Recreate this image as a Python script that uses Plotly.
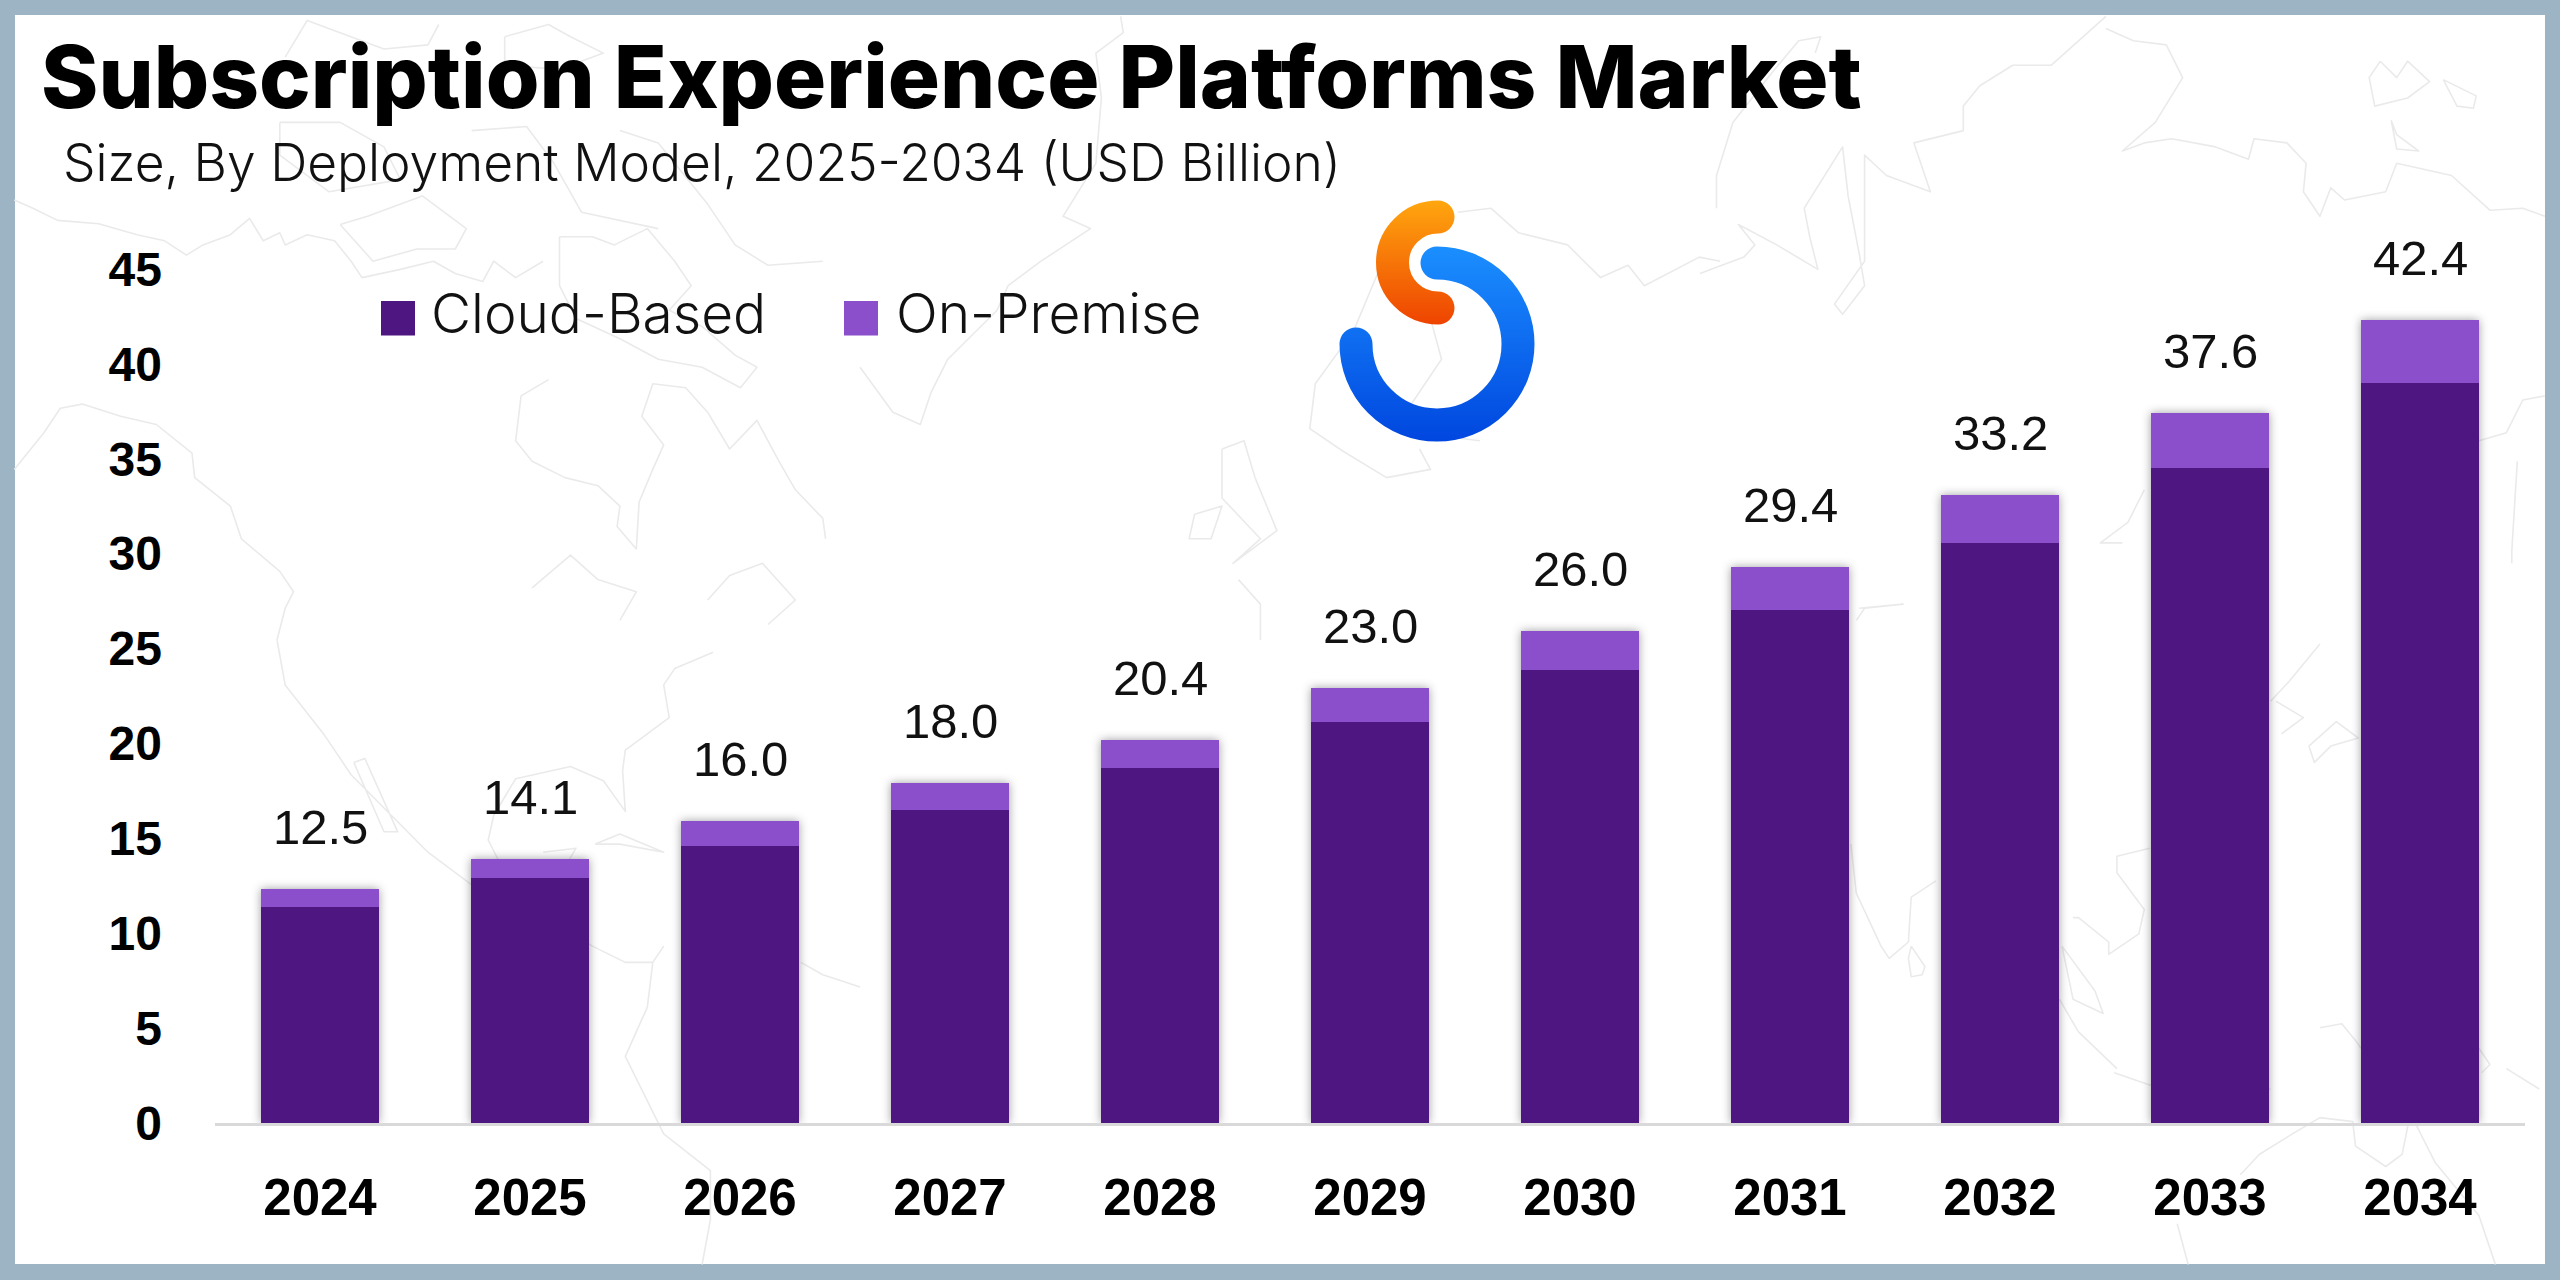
import base64
import plotly.graph_objects as go

# ---- data ----
YEARS = ["2024", "2025", "2026", "2027", "2028", "2029", "2030", "2031", "2032", "2033", "2034"]
CLOUD_BASED = [11.4, 12.9, 14.6, 16.5, 18.7, 21.15, 23.85, 27.05, 30.55, 34.5, 39.0]
ON_PREMISE = [0.95, 1.0, 1.3, 1.4, 1.5, 1.75, 2.05, 2.25, 2.55, 2.9, 3.3]
TOTAL_LABELS = ["12.5", "14.1", "16.0", "18.0", "20.4", "23.0", "26.0", "29.4", "33.2", "37.6", "42.4"]
Y_TICKS = [0, 5, 10, 15, 20, 25, 30, 35, 40, 45]
SERIES_NAMES = ["Cloud-Based", "On-Premise"]
TITLE = "Subscription Experience Platforms Market"
SUBTITLE = "Size, By Deployment Model, 2025-2034 (USD Billion)"

DARK = "#4E1681"
LIGHT = "#8C4FCB"
FRAME = "#9DB4C4"
W, H = 2560, 1280
L, R, T, B = 215, 2525, 269, 1123  # plot area in page pixels


def px(x):
    return (x - L) / (R - L)


def py(y):
    return (B - y) / (B - T)


def seg(ox, oy, pts, sx=1.823, sy=2.45):
    return "M" + " L".join(f"{ox + x / sx:.1f} {oy + y / sy:.1f}" for x, y in pts)


MAP = [
    seg(0, 0, [(26,490),(60,510),(105,540),(180,548),(250,575),(300,590),(340,625),(370,600),(420,575),(455,535),(480,590),(510,570),(520,600),(560,575),(610,590),(640,640),(660,680),(730,660),(790,640),(830,670),(880,690),(900,640),(940,680),(990,640)]),
    seg(0, 0, [(1000,930),(950,970),(940,1080),(970,1130),(1030,1170),(1090,1190),(1130,1240),(1125,1290),(1160,1345),(1165,1230),(1190,1150),(1210,1090),(1170,1020),(1190,940),(1250,950),(1290,1010),(1330,1100),(1380,1030),(1420,1130),(1450,1200),(1500,1270),(1505,1320)]),
    seg(0, 0, [(26,1150),(80,1060),(110,1000),(150,990),(220,1020),(285,1040),(350,1110),(355,1170),(420,1240),(440,1320),(510,1400),(535,1450),(520,1490),(505,1568)]),
    seg(0, 0, [(520,140),(560,50),(620,80),(700,120),(780,110),(800,60)]),
    seg(0, 0, [(510,300),(620,300),(700,360),(730,440),(600,470),(510,380),(510,300)]),
    seg(0, 0, [(620,550),(680,640),(760,610),(830,610),(850,560),(770,480),(670,530),(620,550)]),
    seg(0, 0, [(1020,580),(1080,580),(1120,600),(1180,560),(1230,640),(1260,700),(1220,760),(1280,800),(1340,870),(1380,900),(1350,950),(1280,900),(1200,880),(1130,830),(1050,780),(1020,700),(1020,580)]),
    seg(0, 0, [(920,90),(1000,60),(1040,90),(1100,130),(1020,170),(920,160),(920,90)]),
    seg(0, 0, [(860,320),(960,310),(1010,400),(1060,520),(1200,560)]),
    seg(0, 0, [(1130,320),(1200,350),(1290,500),(1340,600),(1400,650),(1500,640)]),
    seg(0, 0, [(970,1440),(1040,1360),(1090,1420),(1160,1450),(1130,1520)]),
    seg(0, 0, [(1290,1470),(1330,1410),(1390,1380),(1450,1470),(1400,1530)]),
    seg(0, 640, [(505,0),(520,110),(590,230),(640,330),(780,520),(860,600),(1000,680),(1080,750),(1140,790),(1190,790),(1210,750)]),
    seg(0, 640, [(1190,790),(1180,900),(1140,1020),(1210,1210),(1295,1300),(1295,1420),(1280,1530)]),
    seg(0, 640, [(645,300),(665,290),(725,470),(700,470),(645,300)]),
    seg(0, 640, [(1300,30),(1230,70),(1210,110),(1220,190),(1140,270),(1135,320),(1140,420),(1100,345),(1040,310),(940,340),(900,430),(890,490),(920,570),(1020,580),(1050,510),(990,520)]),
    seg(0, 640, [(1085,500),(1130,475),(1210,520),(1130,500),(1085,500)]),
    seg(0, 640, [(1460,790),(1500,820),(1568,850)]),
    seg(860, 0, [(475,40),(480,80),(430,130),(440,240),(430,400),(370,530),(420,560),(330,640),(270,700),(250,760),(160,880),(130,960),(110,1040),(60,1010),(0,900)]),
    seg(860, 0, [(950,650),(900,810),(830,940),(820,1050),(880,1105),(960,1170),(1040,1150),(1020,1100)]),
    seg(860, 0, [(1040,780),(1060,880),(1000,1000),(1010,1060),(1130,1080)]),
    seg(860, 0, [(660,1100),(700,1080),(720,1170),(760,1300),(680,1380),(730,1320),(660,1220),(660,1100)]),
    seg(860, 0, [(610,1260),(660,1240),(640,1320),(600,1320),(610,1260)]),
    seg(860, 0, [(690,1420),(730,1480),(730,1568)]),
    seg(860, 0, [(1090,520),(1150,510),(1200,570),(1290,600),(1350,680),(1400,650),(1430,700),(1530,630),(1568,640)]),
    seg(1700, 0, [(30,510),(30,430),(60,300),(130,180),(180,100),(220,90),(210,130)]),
    seg(1700, 0, [(0,670),(80,630),(100,600),(70,550),(140,600),(215,660),(200,580),(190,510),(260,360),(270,480),(290,620),(300,700),(260,770),(245,745),(300,640),(300,380),(340,430),(420,470),(390,350),(480,320),(480,260),(510,210),(570,160),(640,160),(690,100),(740,40)]),
    seg(1700, 0, [(740,70),(790,100),(850,110),(880,190),(830,300),(770,370),(810,350),(860,340),(940,360),(1000,390),(1010,340),(1070,350),(1105,400),(1100,470),(1130,530),(1150,460),(1175,490),(1250,470),(1270,400),(1370,430),(1440,515),(1500,510),(1540,530)]),
    seg(1700, 0, [(1240,150),(1220,190),(1230,260),(1290,240),(1330,200),(1290,150),(1270,190),(1240,150)]),
    seg(1700, 0, [(1355,195),(1415,235),(1410,265),(1380,260),(1355,195)]),
    seg(1700, 0, [(1260,295),(1270,330),(1310,370),(1270,365),(1260,295)]),
    seg(1700, 0, [(1540,970),(1500,980),(1470,1060),(1420,1080)]),
    seg(1700, 0, [(1490,1130),(1480,1350),(1480,1380)]),
    seg(1700, 0, [(810,1200),(780,1280),(730,1330),(770,1330)]),
    seg(1700, 0, [(290,1490),(370,1480),(300,1490),(285,1520)]),
    seg(1700, 640, [(275,500),(285,620),(330,750),(345,780),(380,740),(385,630),(430,590)]),
    seg(1700, 640, [(385,750),(410,800),(405,820),(385,825),(380,780),(385,750)]),
    seg(1700, 640, [(680,680),(690,680),(745,740),(745,770),(800,720),(810,660),(760,570),(760,530),(820,510)]),
    seg(1700, 640, [(660,750),(720,860),(735,915),(680,880),(660,750)]),
    seg(1700, 640, [(655,880),(690,960),(760,1050)]),
    seg(1700, 640, [(755,1060),(820,1090),(950,1120),(1040,1100)]),
    seg(1700, 640, [(1040,150),(1075,100),(1130,10)]),
    seg(1700, 640, [(1050,150),(1100,190),(1060,230)]),
    seg(1700, 640, [(1110,260),(1160,200),(1200,240),(1150,260),(1120,300),(1110,260)]),
    seg(1700, 640, [(1130,950),(1170,940),(1200,990),(1205,1000)]),
    seg(1700, 640, [(1420,1000),(1440,1040),(1425,1060)]),
    seg(1700, 640, [(1470,1050),(1530,1100)]),
    seg(1700, 640, [(870,1430),(890,1530)]),
    seg(1700, 640, [(985,1310),(1020,1260),(1080,1210),(1130,1170),(1190,1180),(1195,1240),(1250,1290),(1280,1260),(1295,1160),(1340,1280),(1420,1410),(1450,1530)]),
]

svg = f"""<svg xmlns='http://www.w3.org/2000/svg' width='{W}' height='{H}' viewBox='0 0 {W} {H}'>
<defs>
<linearGradient id='o' gradientUnits='userSpaceOnUse' x1='0' y1='201' x2='0' y2='325'><stop offset='0' stop-color='#FFA60F'/><stop offset='1' stop-color='#EE4300'/></linearGradient>
<linearGradient id='b' gradientUnits='userSpaceOnUse' x1='0' y1='246' x2='0' y2='442'><stop offset='0' stop-color='#1B8FFF'/><stop offset='1' stop-color='#0046DF'/></linearGradient>
</defs>
<rect width='{W}' height='{H}' fill='{FRAME}'/>
<rect x='15' y='15' width='2530' height='1249' fill='#FFFFFF'/>
<path d='{" ".join(MAP)}' fill='none' stroke='#EAEAEA' stroke-width='1.6' stroke-linejoin='round'/>
<path d='M1438 217 A45.5 45.5 0 0 0 1438 308' fill='none' stroke='url(#o)' stroke-width='33' stroke-linecap='round'/>
<path d='M1437 263 A81 81 0 1 1 1356 344' fill='none' stroke='url(#b)' stroke-width='33' stroke-linecap='round'/>
</svg>"""
bg = "data:image/svg+xml;base64," + base64.b64encode(svg.encode()).decode()

BAR_TOTALS = [c + p for c, p in zip(CLOUD_BASED, ON_PREMISE)]

fig = go.Figure()
fig.add_bar(x=YEARS, y=CLOUD_BASED, name=SERIES_NAMES[0], marker=dict(color=DARK, line=dict(width=0)))
fig.add_bar(x=YEARS, y=ON_PREMISE, name=SERIES_NAMES[1], marker=dict(color=LIGHT, line=dict(width=0)))

# number-like category strings are read as category indexes by annotations, so position by index
ann = [
    dict(x=i, y=t, xref="x", yref="y", text=l, showarrow=False, yshift=62, yanchor="middle",
         font=dict(family="Liberation Sans", size=49, color="#111111"))
    for i, (t, l) in enumerate(zip(BAR_TOTALS, TOTAL_LABELS))
]
ann.append(dict(x=px(61), y=py(162), xref="paper", yref="paper", xanchor="left", yanchor="middle",
                text=SUBTITLE, showarrow=False, font=dict(family="Inter", size=51.5, weight=300, color="#111111")))
for name, tx in zip(SERIES_NAMES, (429, 894)):
    ann.append(dict(x=px(tx), y=py(313), xref="paper", yref="paper", xanchor="left", yanchor="middle",
                    text=name, showarrow=False, font=dict(family="Inter", size=55, weight=300, color="#111111")))

shapes = [
    dict(type="rect", xref="paper", yref="paper", x0=px(x0), x1=px(x0 + 34), y0=py(301), y1=py(335.5),
         fillcolor=c, line=dict(width=0))
    for x0, c in ((381, DARK), (844, LIGHT))
]

fig.update_layout(
    width=W, height=H, autosize=False,
    margin=dict(l=L, r=W - R, t=T, b=H - B, autoexpand=False),
    paper_bgcolor=FRAME, plot_bgcolor="rgba(0,0,0,0)",
    barmode="stack", bargap=0.44, showlegend=False,
    title=dict(text=TITLE, x=41 / W, xanchor="left", xref="container", yref="container", y=1 - 78 / H, yanchor="middle",
               font=dict(family="Inter", size=87, weight=800, color="#000000")),
    xaxis=dict(type="category", range=[-0.5, 10.5], showgrid=False, showline=True, linecolor="#D9D9D9", linewidth=3,
               ticks="", ticklabelstandoff=28, tickfont=dict(family="Liberation Sans", size=51, weight=700, color="#000000")),
    yaxis=dict(range=[0, 45], tickmode="array", tickvals=Y_TICKS, showgrid=False, zeroline=False, showline=False,
               ticks="", ticklabelstandoff=52, tickfont=dict(family="Liberation Sans", size=48, weight=700, color="#000000")),
    images=[dict(source=bg, xref="paper", yref="paper", x=px(0), y=py(0), sizex=W / (R - L), sizey=H / (B - T),
                 sizing="stretch", xanchor="left", yanchor="top", layer="below")],
    annotations=ann, shapes=shapes,
)

post = """
document.documentElement.style.margin='0';document.body.style.margin='0';
var gd=document.getElementById('{plot_id}');
function sh(){gd.querySelectorAll('.barlayer').forEach(function(n){n.style.filter='drop-shadow(0 0 5px rgba(40,40,50,0.45))';});}
sh();gd.on('plotly_afterplot',sh);setTimeout(sh,200);
"""
fig.write_html("out.html", post_script=post, config={"displayModeBar": False})
